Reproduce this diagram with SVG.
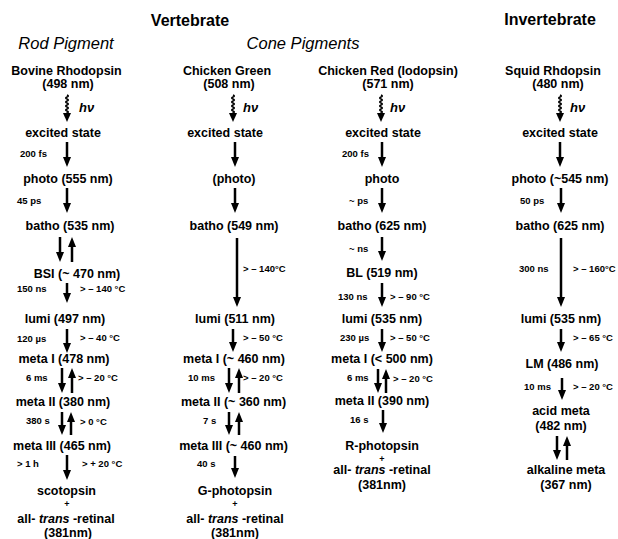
<svg xmlns="http://www.w3.org/2000/svg" width="618" height="539" viewBox="0 0 618 539">
<style>
text{font-family:"Liberation Sans",Arial,Helvetica,sans-serif;fill:#000}
.t{font-size:12.5px;font-weight:bold;text-anchor:middle}
.s{font-size:9.5px;font-weight:bold}
.p{font-size:9px;font-weight:bold;text-anchor:middle}
.h{font-size:16px;font-weight:bold;text-anchor:middle}
.i{font-size:16.5px;font-style:italic;text-anchor:middle}
.hv{font-size:13px;font-style:italic;font-weight:bold}
.a{stroke:#000;stroke-width:2.5;fill:none;marker-end:url(#ah)}
.w{stroke:#000;stroke-width:1.6;fill:none;marker-end:url(#ahw)}
</style>
<defs>
<marker id="ah" markerUnits="userSpaceOnUse" markerWidth="10" markerHeight="8" viewBox="0 0 10 8" refX="5" refY="4" orient="auto"><path d="M0,0 L10,4 L0,8 z" fill="#000"/></marker>
<marker id="ahw" markerUnits="userSpaceOnUse" markerWidth="9" markerHeight="8" viewBox="0 0 9 8" refX="2" refY="4" orient="auto"><path d="M0,0 L9,4 L0,8 z" fill="#000"/></marker>
</defs>
<rect width="618" height="539" fill="#fff"/>

<g id="titles">
<text class="h" x="190" y="26">Vertebrate</text>
<text class="h" x="550" y="25">Invertebrate</text>
<text class="i" x="66" y="49">Rod Pigment</text>
<text class="i" x="303" y="49">Cone Pigments</text>
</g>

<!-- Column 1: Rod -->
<g id="bovine"><text class="t" x="66.5" y="75">Bovine Rhodopsin</text><text class="t" x="68" y="88">(498 nm)</text></g>
<g id="rod-excited"><text class="t" x="63" y="137">excited state</text></g>
<g id="rod-photo"><text class="t" x="68" y="183">photo (555 nm)</text></g>
<g id="rod-batho"><text class="t" x="70" y="230">batho (535 nm)</text></g>
<g id="rod-bsi"><text class="t" x="77" y="278">BSI (~ 470 nm)</text></g>
<g id="rod-lumi"><text class="t" x="65" y="323">lumi (497 nm)</text></g>
<g id="rod-meta1"><text class="t" x="64" y="363">meta I (478 nm)</text></g>
<g id="rod-meta2"><text class="t" x="63" y="406">meta II (380 nm)</text></g>
<g id="rod-meta3"><text class="t" x="62" y="450">meta III (465 nm)</text></g>
<g id="rod-final"><text class="t" x="66.5" y="495">scotopsin</text><text class="p" x="67" y="507">+</text><text class="t" x="66" y="523">all- <tspan font-style="italic">trans</tspan> -retinal</text><text class="t" x="68" y="537">(381nm)</text></g>

<!-- Column 2: Chicken Green -->
<g id="green"><text class="t" x="227" y="75">Chicken Green</text><text class="t" x="229" y="88">(508 nm)</text></g>
<g id="green-excited"><text class="t" x="225" y="137">excited state</text></g>
<g id="green-photo"><text class="t" x="234" y="183">(photo)</text></g>
<g id="green-batho"><text class="t" x="234" y="230">batho (549 nm)</text></g>
<g id="green-lumi"><text class="t" x="235" y="323">lumi (511 nm)</text></g>
<g id="green-meta1"><text class="t" x="234" y="363">meta I (~ 460 nm)</text></g>
<g id="green-meta2"><text class="t" x="233.5" y="406">meta II (~ 360 nm)</text></g>
<g id="green-meta3"><text class="t" x="233.5" y="450">meta III (~ 460 nm)</text></g>
<g id="green-final"><text class="t" x="235" y="495">G-photopsin</text><text class="p" x="235" y="507">+</text><text class="t" x="235" y="523">all- <tspan font-style="italic">trans</tspan> -retinal</text><text class="t" x="235" y="537">(381nm)</text></g>

<!-- Column 3: Chicken Red -->
<g id="red"><text class="t" x="388" y="75">Chicken Red (Iodopsin)</text><text class="t" x="388" y="88">(571 nm)</text></g>
<g id="red-excited"><text class="t" x="383" y="137">excited state</text></g>
<g id="red-photo"><text class="t" x="382" y="183">photo</text></g>
<g id="red-batho"><text class="t" x="382" y="230">batho (625 nm)</text></g>
<g id="red-bl"><text class="t" x="382" y="277">BL (519 nm)</text></g>
<g id="red-lumi"><text class="t" x="382" y="323">lumi (535 nm)</text></g>
<g id="red-meta1"><text class="t" x="382" y="363">meta I (&lt; 500 nm)</text></g>
<g id="red-meta2"><text class="t" x="382" y="405">meta II (390 nm)</text></g>
<g id="red-final"><text class="t" x="382" y="450">R-photopsin</text><text class="p" x="382" y="462">+</text><text class="t" x="382" y="474">all- <tspan font-style="italic">trans</tspan> -retinal</text><text class="t" x="382" y="489">(381nm)</text></g>

<!-- Column 4: Squid -->
<g id="squid"><text class="t" x="553" y="75">Squid Rhdopsin</text><text class="t" x="558" y="88">(480 nm)</text></g>
<g id="squid-excited"><text class="t" x="560" y="137">excited state</text></g>
<g id="squid-photo"><text class="t" x="560" y="183">photo (~545 nm)</text></g>
<g id="squid-batho"><text class="t" x="560" y="230">batho (625 nm)</text></g>
<g id="squid-lumi"><text class="t" x="561" y="323">lumi (535 nm)</text></g>
<g id="squid-lm"><text class="t" x="562" y="368">LM (486 nm)</text></g>
<g id="squid-acid"><text class="t" x="561" y="415">acid meta</text><text class="t" x="561" y="430">(482 nm)</text></g>
<g id="squid-alkaline"><text class="t" x="566" y="474">alkaline meta</text><text class="t" x="566" y="489">(367 nm)</text></g>

<g id="connectors">
<!-- wavy light arrows -->
<path class="w" d="M67,95 q2.5,1 0,2 q-2.5,1 0,2 q2.5,1 0,2 q-2.5,1 0,2 q2.5,1 0,2 q-2.5,1 0,2 q2.5,1 0,2 q-2.5,1 0,2 q2.5,1 0,2 l0,2"/>
<path class="w" d="M233,95 q2.5,1 0,2 q-2.5,1 0,2 q2.5,1 0,2 q-2.5,1 0,2 q2.5,1 0,2 q-2.5,1 0,2 q2.5,1 0,2 q-2.5,1 0,2 q2.5,1 0,2 l0,2"/>
<path class="w" d="M381,95 q2.5,1 0,2 q-2.5,1 0,2 q2.5,1 0,2 q-2.5,1 0,2 q2.5,1 0,2 q-2.5,1 0,2 q2.5,1 0,2 q-2.5,1 0,2 q2.5,1 0,2 l0,2"/>
<path class="w" d="M560,95 q2.5,1 0,2 q-2.5,1 0,2 q2.5,1 0,2 q-2.5,1 0,2 q2.5,1 0,2 q-2.5,1 0,2 q2.5,1 0,2 q-2.5,1 0,2 q2.5,1 0,2 l0,2"/>

<!-- column 1 -->
<line class="a" x1="67" y1="142" x2="67" y2="162"/>
<line class="a" x1="67" y1="188" x2="67" y2="208"/>
<line class="a" x1="60" y1="237" x2="60" y2="257"/>
<line class="a" x1="72" y1="262" x2="72" y2="242"/>
<line class="a" x1="67" y1="283" x2="67" y2="298"/>
<line class="a" x1="67" y1="329" x2="67" y2="348"/>
<line class="a" x1="62" y1="368" x2="62" y2="388"/>
<line class="a" x1="72" y1="393" x2="72" y2="373"/>
<line class="a" x1="62" y1="412" x2="62" y2="430"/>
<line class="a" x1="71" y1="435" x2="71" y2="417"/>
<line class="a" x1="67" y1="455" x2="67" y2="475"/>

<!-- column 2 -->
<line class="a" x1="235" y1="142" x2="235" y2="162"/>
<line class="a" x1="235" y1="188" x2="235" y2="208"/>
<line class="a" x1="237" y1="238" x2="237" y2="302"/>
<line class="a" x1="233" y1="329" x2="233" y2="347"/>
<line class="a" x1="229" y1="368" x2="229" y2="388"/>
<line class="a" x1="239" y1="393" x2="239" y2="373"/>
<line class="a" x1="229" y1="412" x2="229" y2="430"/>
<line class="a" x1="239" y1="435" x2="239" y2="417"/>
<line class="a" x1="235" y1="456" x2="235" y2="473"/>

<!-- column 3 -->
<line class="a" x1="382" y1="142" x2="382" y2="162"/>
<line class="a" x1="382" y1="188" x2="382" y2="208"/>
<line class="a" x1="382" y1="237" x2="382" y2="256"/>
<line class="a" x1="382" y1="283" x2="382" y2="302"/>
<line class="a" x1="382" y1="329" x2="382" y2="347"/>
<line class="a" x1="378" y1="369" x2="378" y2="388"/>
<line class="a" x1="386" y1="393" x2="386" y2="374"/>
<line class="a" x1="383" y1="410" x2="383" y2="428"/>

<!-- column 4 -->
<line class="a" x1="560" y1="142" x2="560" y2="162"/>
<line class="a" x1="561" y1="188" x2="561" y2="208"/>
<line class="a" x1="561" y1="238" x2="561" y2="302"/>
<line class="a" x1="561" y1="329" x2="561" y2="347"/>
<line class="a" x1="562" y1="378" x2="562" y2="395"/>
<line class="a" x1="557" y1="436" x2="557" y2="455"/>
<line class="a" x1="567" y1="460" x2="567" y2="441"/>
</g>

<g id="labels">
<text class="hv" x="79" y="112">hν</text>
<text class="hv" x="243" y="112">hν</text>
<text class="hv" x="390" y="112">hν</text>
<text class="hv" x="570" y="112">hν</text>

<text class="s" x="20" y="157">200 fs</text>
<text class="s" x="17" y="204">45 ps</text>
<text class="s" x="17" y="292">150 ns</text>
<text class="s" x="80" y="292">&gt; – 140 °C</text>
<text class="s" x="17" y="342">120 µs</text>
<text class="s" x="80" y="341">&gt; – 40 °C</text>
<text class="s" x="26" y="381">6 ms</text>
<text class="s" x="78" y="381">&gt; – 20 °C</text>
<text class="s" x="26" y="424">380 s</text>
<text class="s" x="80" y="425">&gt; 0 °C</text>
<text class="s" x="17" y="467">&gt; 1 h</text>
<text class="s" x="82" y="467">&gt; + 20 °C</text>

<text class="s" x="243" y="272">&gt; – 140°C</text>
<text class="s" x="243" y="341">&gt; – 50 °C</text>
<text class="s" x="188" y="381">10 ms</text>
<text class="s" x="243" y="381">&gt; – 20 °C</text>
<text class="s" x="203" y="424">7 s</text>
<text class="s" x="197" y="467">40 s</text>

<text class="s" x="342" y="157">200 fs</text>
<text class="s" x="349" y="204">~ ps</text>
<text class="s" x="349" y="252">~ ns</text>
<text class="s" x="338" y="300">130 ns</text>
<text class="s" x="390" y="300">&gt; – 90 °C</text>
<text class="s" x="340" y="341">230 µs</text>
<text class="s" x="390" y="341">&gt; – 50 °C</text>
<text class="s" x="347" y="381">6 ms</text>
<text class="s" x="393" y="382">&gt; – 20 °C</text>
<text class="s" x="350" y="423">16 s</text>

<text class="s" x="520" y="204">50 ps</text>
<text class="s" x="519" y="272">300 ns</text>
<text class="s" x="573" y="272">&gt; – 160°C</text>
<text class="s" x="573" y="341">&gt; – 65 °C</text>
<text class="s" x="524" y="390">10 ms</text>
<text class="s" x="573" y="390">&gt; – 20 °C</text>
</g>
</svg>
